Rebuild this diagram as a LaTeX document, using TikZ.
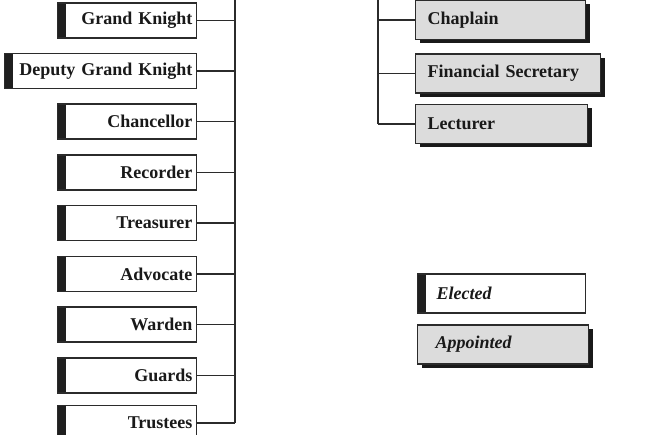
\documentclass[tikz,border=0pt]{standalone}
\usepackage{fontspec}
\setmainfont{Liberation Serif}
\usetikzlibrary{shadows}
\definecolor{ink}{HTML}{2B2B2B}
\definecolor{apgray}{HTML}{DCDCDC}
\tikzset{
  base/.style={draw=ink, line width=1.1pt, minimum height=35pt, inner ysep=0pt,
    font=\fontsize{18}{20}\selectfont\bfseries, text=black!90},
  elected/.style={base, fill=white, inner xsep=4pt, align=right,
    path picture={\fill[black!88] (path picture bounding box.north west) rectangle ([xshift=8.5pt]path picture bounding box.south west);}},
  appointed/.style={base, fill=apgray, minimum height=39pt, inner xsep=12pt, align=left,
    drop shadow={shadow xshift=4pt, shadow yshift=-4pt, opacity=1, fill=black!90}},
  link/.style={draw=ink, line width=1.1pt}
}
\begin{document}
\begin{tikzpicture}[x=1pt,y=-1pt]
\useasboundingbox (0,0) rectangle (656,435);
% left column (elected)
\node[elected, anchor=east, text width=131pt] (gk)  at (197,20.5)  {Grand Knight};
\node[elected, anchor=east, text width=184pt] (dgk) at (197,71)    {Deputy Grand Knight};
\node[elected, anchor=east, text width=131pt] (ch)  at (197,121.5) {Chancellor};
\node[elected, anchor=east, text width=131pt] (rec) at (197,172.5) {Recorder};
\node[elected, anchor=east, text width=131pt] (tre) at (197,223)   {Treasurer};
\node[elected, anchor=east, text width=131pt] (adv) at (197,274)   {Advocate};
\node[elected, anchor=east, text width=131pt] (war) at (197,324.5) {Warden};
\node[elected, anchor=east, text width=131pt] (gua) at (197,375.5) {Guards};
\node[elected, anchor=east, text width=131pt] (tru) at (197,423)   {Trustees};
\coordinate (ltop) at (235,0);
\draw[link] (ltop) -- (ltop |- tru.east);
\foreach \n in {gk,dgk,ch,rec,tre,adv,war,gua,tru}
  \draw[link] (\n.east) -- (\n.east -| ltop);
% right column (appointed)
\node[appointed, anchor=west, text width=146pt] (chap) at (415,20)   {Chaplain};
\node[appointed, anchor=west, text width=161pt] (fin)  at (415,73.5) {Financial Secretary};
\node[appointed, anchor=west, text width=148pt] (lec)  at (415,124)  {Lecturer};
\coordinate (rtop) at (378,0);
\draw[link] (rtop) -- (rtop |- lec.west);
\foreach \n in {chap,fin,lec}
  \draw[link] (rtop |- \n.west) -- (\n.west);
% legend
\node[elected, anchor=west, minimum height=39pt, align=left, inner xsep=19pt, text width=130pt,
  font=\fontsize{18}{20}\selectfont\bfseries\itshape] (el) at (417,293.5) {Elected};
\node[appointed, anchor=west, inner xsep=18pt, text width=135pt,
  font=\fontsize{18}{20}\selectfont\bfseries\itshape] (ap) at (417,344.5) {Appointed};
\end{tikzpicture}
\end{document}
